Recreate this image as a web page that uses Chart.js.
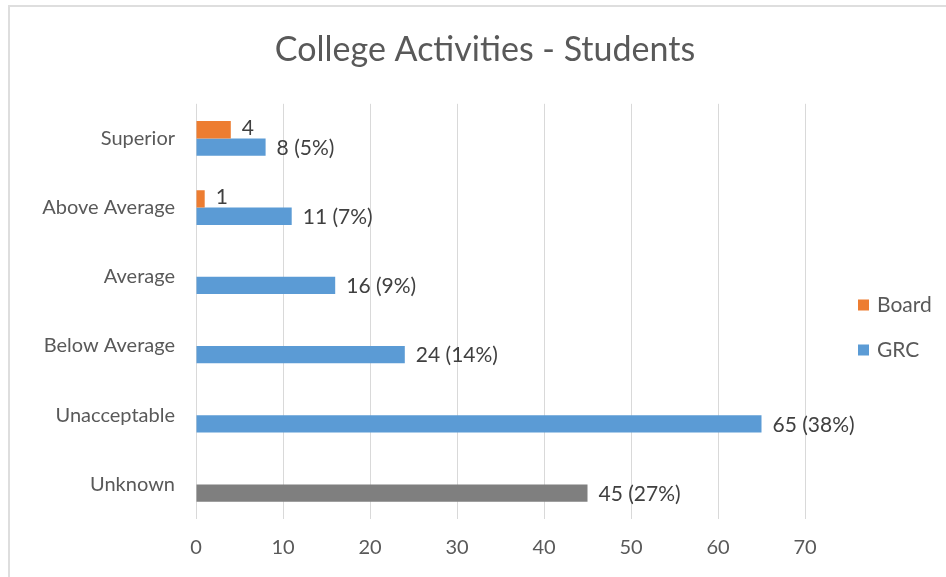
<!DOCTYPE html>
<html>
<head>
<meta charset="utf-8">
<script src="https://cdn.jsdelivr.net/npm/chart.js@4/dist/chart.umd.min.js"></script>
<style>
  html, body { margin: 0; padding: 0; background: #fff; overflow: hidden; }
  #wrap { position: relative; width: 946px; height: 577px; }
  #frame { position: absolute; left: 8px; top: 5px; width: 2000px; height: 2000px;
           border-top: 2px solid #dedede; border-left: 2px solid #dedede; pointer-events: none; }
</style>
</head>
<body>
<div id="wrap">
  <canvas id="chart" width="946" height="577"></canvas>
  <div id="frame"></div>
</div>
<script>
// Categories and series
const categories = ['Superior', 'Above Average', 'Average', 'Below Average', 'Unacceptable', 'Unknown'];
const boardValues = [4, 1, null, null, null, null];
const grcValues = [8, 11, 16, 24, 65, 45];
const grcPercents = [5, 7, 9, 14, 38, 27];
const xTickValues = [0, 10, 20, 30, 40, 50, 60, 70];

const ORANGE = '#ED7D31';
const BLUE = '#5B9BD5';
const GREY = '#7F7F7F';
const TEXT = '#595959';
const FONT = 'Lato, "Open Sans", sans-serif';

// Unknown responses are shown in grey
const grcColors = categories.map(c => c === 'Unknown' ? GREY : BLUE);

// Value labels next to each bar end
const valueLabels = {
  id: 'valueLabels',
  afterDatasetsDraw(chart) {
    const ctx = chart.ctx;
    ctx.save();
    ctx.font = '21px ' + FONT;
    ctx.fillStyle = '#404040';
    ctx.textBaseline = 'middle';
    ctx.textAlign = 'left';
    chart.data.datasets.forEach((ds, di) => {
      const meta = chart.getDatasetMeta(di);
      meta.data.forEach((el, i) => {
        const v = ds.data[i];
        if (v === null || v === undefined) return;
        const text = di === 1 ? v + ' (' + grcPercents[i] + '%)' : String(v);
        ctx.fillText(text, el.x + 11, el.y + (di === 0 ? -2 : 1));
      });
    });
    ctx.restore();
  }
};

// Legend on the right, drawn from the dataset names and colours
const sideLegend = {
  id: 'sideLegend',
  afterDraw(chart) {
    const ctx = chart.ctx;
    ctx.save();
    ctx.font = '21px ' + FONT;
    ctx.textBaseline = 'middle';
    ctx.textAlign = 'left';
    const x = 858, y0 = 305, gap = 45;
    chart.data.datasets.forEach((ds, i) => {
      const y = y0 + i * gap;
      ctx.fillStyle = ds.legendColor;
      ctx.fillRect(x, y - 5.5, 11, 11);
      ctx.fillStyle = TEXT;
      ctx.fillText(ds.label, x + 19, y);
    });
    ctx.restore();
  }
};

new Chart(document.getElementById('chart'), {
  type: 'bar',
  data: {
    labels: categories,
    datasets: [
      { label: 'Board', data: boardValues, backgroundColor: ORANGE, legendColor: ORANGE,
        categoryPercentage: 0.5, barPercentage: 1.0 },
      { label: 'GRC', data: grcValues, backgroundColor: grcColors, legendColor: BLUE,
        categoryPercentage: 0.5, barPercentage: 1.0 }
    ]
  },
  options: {
    indexAxis: 'y',
    responsive: false,
    animation: false,
    layout: { padding: { left: 24, right: 0, top: 0, bottom: 0 } },
    plugins: {
      legend: { display: false },
      tooltip: { enabled: false },
      title: {
        display: true,
        text: 'College Activities - Students',
        color: TEXT,
        font: { family: FONT, size: 34, weight: 'normal' },
        padding: { top: 30, bottom: 33 }
      }
    },
    scales: {
      x: {
        min: 0, max: 70,
        afterBuildTicks: (scale) => { scale.ticks = xTickValues.map(v => ({ value: v })); },
        grid: { color: '#d9d9d9', lineWidth: 1, drawTicks: false },
        border: { display: false },
        ticks: { color: TEXT, padding: 17, font: { family: FONT, size: 20 } }
      },
      y: {
        grid: { display: false, drawTicks: false },
        border: { display: false },
        afterFit: (scale) => { scale.width = 172; },
        ticks: { color: TEXT, padding: 21, font: { family: FONT, size: 20 } }
      },
      // empty right-hand axis that reserves room for the legend
      legendSpace: {
        type: 'category',
        position: 'right',
        axis: 'y',
        grid: { display: false, drawTicks: false },
        border: { display: false },
        ticks: { display: false },
        afterFit: (scale) => { scale.width = 141; }
      }
    }
  },
  plugins: [valueLabels, sideLegend]
});
</script>
</body>
</html>
